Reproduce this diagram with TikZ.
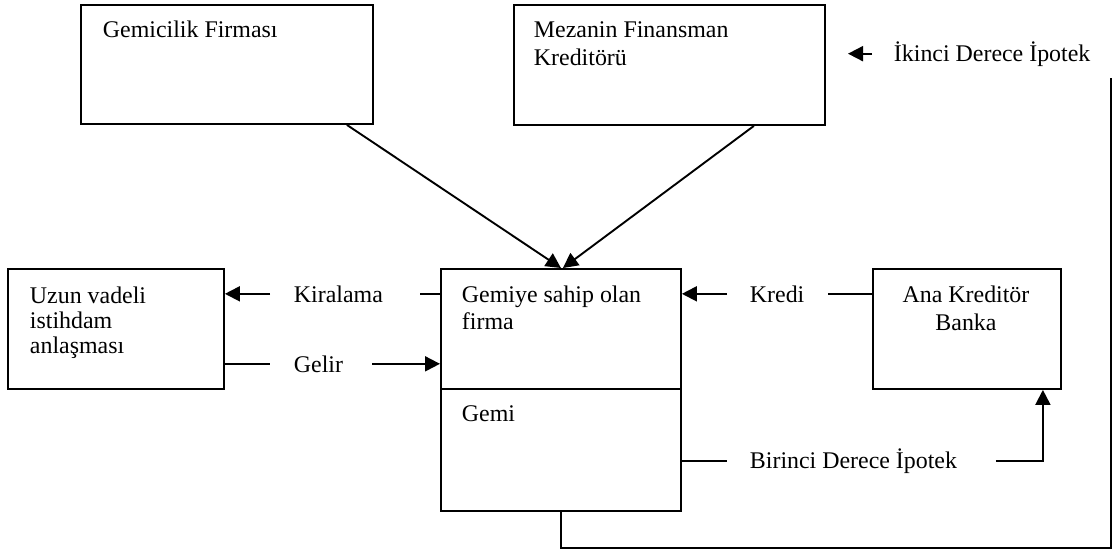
\documentclass[tikz,border=0pt]{standalone}
\usepackage{fontspec}
\setmainfont{Liberation Serif}
\usetikzlibrary{arrows.meta,calc}
\begin{document}
\begin{tikzpicture}[x=1pt,y=-1pt,
  line width=1.9pt,
  box/.style={draw, rectangle, inner sep=0pt, anchor=north west},
  txt/.style={inner sep=0pt, anchor=base west, font=\fontsize{23.9}{27}\selectfont},
  ctxt/.style={txt, anchor=base},
  arr/.style={-{Triangle[length=15pt,width=15pt]}}]
\useasboundingbox (0,0) rectangle (1113,557);

% boxes
\node[box, minimum width=292pt, minimum height=119pt] (gf) at (80,4) {};
\node[box, minimum width=311pt, minimum height=120pt] (mz) at (513,4) {};
\node[box, minimum width=216pt, minimum height=120pt] (uz) at (7,268) {};
\node[box, minimum width=240pt, minimum height=120pt] (firm) at (440,268) {};
\node[box, minimum width=240pt, minimum height=122pt] (gemi) at (440,388) {};
\node[box, minimum width=188pt, minimum height=120pt] (bank) at (872,268) {};

% box texts
\node[txt] (gfT) at (102,37) {Gemicilik Firması};
\node[txt] (mzT1) at (533,37) {Mezanin Finansman};
\node[txt] (mzT2) at (533,65) {Kreditörü};
\node[txt] (uzT1) at (29,303) {Uzun vadeli};
\node[txt] (uzT2) at (29,328) {istihdam};
\node[txt] (uzT3) at (29,353) {anlaşması};
\node[txt] (firmT1) at (461,302) {Gemiye sahip olan};
\node[txt] (firmT2) at (461,329) {firma};
\node[txt] (gemiT) at (461,421) {Gemi};
\node[ctxt] (bankT1) at (966,302) {Ana Kreditör};
\node[ctxt] (bankT2) at (966,330) {Banka};

% connector labels
\node[txt] (kira) at (293,302) {Kiralama};
\node[txt] (gelir) at (293,372) {Gelir};
\node[txt] (kredi) at (749,302) {Kredi};
\node[txt] (bir) at (749,468) {Birinci Derece İpotek};
\node[txt] (iki) at (893,61) {İkinci Derece İpotek};

% free ends of the outer return line
\coordinate (rcorner) at (1111,548);
\coordinate (rtop) at (1111,78);

% connectors
\draw[arr] ($(gf.south east)+(-27,0)$) -- ($(firm.north)+(0,0)$);
\draw[arr] ($(mz.south east)+(-72,0)$) -- ($(firm.north)+(2,0)$);

\draw (firm.west |- kira.west) -- ($(kira.east)+(36,0)$);
\draw[arr] ($(kira.west)+(-23,0)$) -- (uz.east |- kira.west);

\draw (uz.east |- gelir.west) -- ($(gelir.west)+(-23,0)$);
\draw[arr] ($(gelir.east)+(28,0)$) -- (firm.west |- gelir.west);

\draw (bank.west |- kredi.west) -- ($(kredi.east)+(23,0)$);
\draw[arr] ($(kredi.west)+(-22,0)$) -- (firm.east |- kredi.west);

\draw (gemi.east |- bir.west) -- ($(bir.west)+(-22,0)$);
\draw[arr] ($(bir.east)+(38,0)$) -| ($(bank.south east)+(-19,0)$);

\draw (gemi.south) |- (rcorner) -- (rtop);
\draw[arr] ($(iki.west)+(-21,0)$) -- ++(-24,0);
\end{tikzpicture}
\end{document}
